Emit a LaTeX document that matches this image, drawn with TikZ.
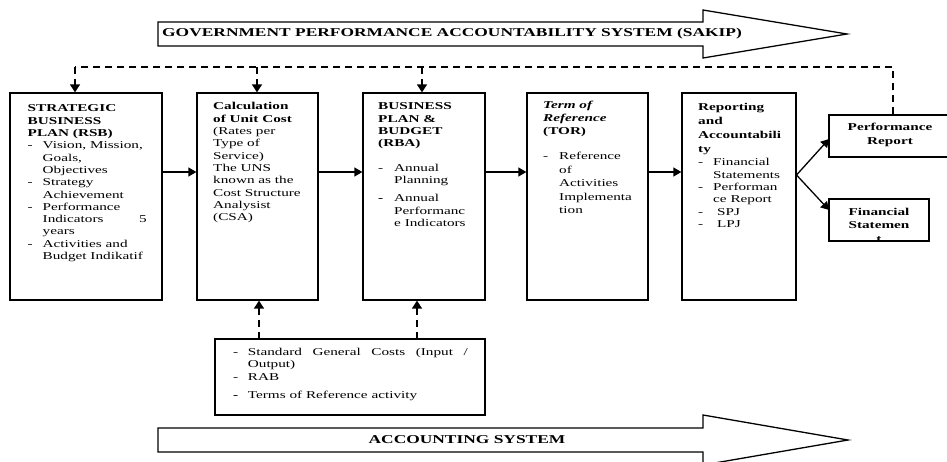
\documentclass[tikz,border=0pt]{standalone}
\usepackage{fontspec}
\setmainfont{Liberation Serif}[FakeStretch=1.45]
\usetikzlibrary{arrows.meta}
\newcommand\itemdash[1][15pt]{\makebox[#1][l]{-}}
\newcommand\itemdashb[1][15pt]{\makebox[#1][l]{\textbf{-}}}
\newcommand\itemind[1][15pt]{\hspace*{#1}}
\begin{document}
\begin{tikzpicture}[x=1pt,y=-1pt,
  box/.style={draw, line width=1.3pt, inner sep=0pt},
  txt/.style={anchor=base west, inner sep=0pt, font=\fontsize{10.5}{12.3}\selectfont},
  ctxt/.style={anchor=base, inner sep=0pt, font=\fontsize{10.5}{13.4}\selectfont\bfseries},
  arr/.style={line width=1.3pt, -{Triangle[length=8pt,width=9pt]}},
  dline/.style={line width=1.6pt, dash pattern=on 7pt off 5pt},
  darr/.style={dline, -{Triangle[length=8pt,width=10pt]}},
  banner/.style={draw, line width=1.3pt, fill=white}]
\useasboundingbox (0,0) rectangle (947,462);

% banners
\draw[banner] (158,22) -- (703,22) -- (703,10) -- (847,34) -- (703,58) -- (703,46) -- (158,46) -- cycle;
\node[anchor=west, inner sep=0pt, font=\fontsize{12}{14}\selectfont\bfseries] (gtext) at (162,34)
  {GOVERNMENT PERFORMANCE ACCOUNTABILITY SYSTEM (SAKIP)};
\draw[banner] (158,428) -- (703,428) -- (703,415) -- (848,440) -- (703,465) -- (703,452) -- (158,452) -- cycle;
\node[inner sep=0pt, font=\fontsize{12}{14}\selectfont\bfseries] (atext) at (467,440) {ACCOUNTING SYSTEM};

% boxes
\node[box, minimum width=152pt, minimum height=207pt] (b1) at (86,196.5) {};
\node[box, minimum width=121pt, minimum height=207pt] (b2) at (257.5,196.5) {};
\node[box, minimum width=122pt, minimum height=207pt] (b3) at (424,196.5) {};
\node[box, minimum width=121pt, minimum height=207pt] (b4) at (587.5,196.5) {};
\node[box, minimum width=114pt, minimum height=207pt] (b5) at (739,196.5) {};
\node[box, minimum width=123pt, minimum height=42pt] (pr) at (890.5,136) {};
\node[box, minimum width=100pt, minimum height=42pt] (fs) at (879,220) {};
\node[box, minimum width=270pt, minimum height=76pt] (bb) at (350,377) {};

% box texts
\node[txt] (t1) at (27.5,112) {\parbox[t]{200pt}{\raggedright
\textbf{STRATEGIC}\\
\textbf{BUSINESS}\\
\textbf{PLAN (RSB)}\\
\itemdash Vision, Mission,\\
\itemind Goals,\\
\itemind Objectives\\
\itemdash Strategy\\
\itemind Achievement\\
\itemdash Performance\\
\itemind\hbox to 104pt{Indicators\hfill 5}\\
\itemind years\\
\itemdash Activities and\\
\itemind Budget Indikatif}};

\node[txt] (t2) at (213,110) {\parbox[t]{200pt}{\raggedright
\textbf{Calculation}\\
\textbf{of Unit Cost}\\
(Rates per\\
Type of\\
Service)\\
The UNS\\
known as the\\
Cost Structure\\
Analysist\\
(CSA)}};

\node[txt] (t3) at (378,110) {\parbox[t]{200pt}{\raggedright
\textbf{BUSINESS}\\
\textbf{PLAN \&}\\
\textbf{BUDGET}\\
\textbf{(RBA)}\\[12.2pt]
\itemdash[16pt]Annual\\
\itemind[16pt]Planning\\[6pt]
\itemdashb[16pt]Annual\\
\itemind[16pt]Performanc\\
\itemind[16pt]e Indicators}};

\node[txt] (t4) at (543,109) {\parbox[t]{200pt}{\raggedright
\textbf{\textit{Term of}}\\
\textbf{\textit{Reference}}\\[0.6pt]
\textbf{(TOR)}\\[13.2pt]
\itemdash[16pt]Reference\\[1.2pt]
\itemind[16pt]of\\[1.2pt]
\itemind[16pt]Activities\\[1.2pt]
\itemind[16pt]Implementa\\[1.2pt]
\itemind[16pt]tion}};

\node[txt] (t5) at (698,110.5) {\parbox[t]{200pt}{\raggedright
\textbf{Reporting}\\[1.7pt]
\textbf{and}\\[1.7pt]
\textbf{Accountabili}\\[1.7pt]
\textbf{ty}\\[1.2pt]
\itemdash Financial\\
\itemind Statements\\
\itemdash Performan\\
\itemind ce Report\\
\itemdash\hspace*{4pt}SPJ\\
\itemdash\hspace*{4pt}LPJ}};

\node[txt] (tb) at (233,355.5) {\parbox[t]{260pt}{\raggedright
\itemdash[14.7pt]\hbox to 220pt{Standard\hfill General\hfill Costs\hfill (Input\hfill /}\\[-0.8pt]
\itemind[14.7pt]Output)\\[1.2pt]
\itemdash[14.7pt]RAB\\[5.7pt]
\itemdashb[14.7pt]Terms of Reference activity}};

\node[ctxt] (tpr) at (890,130.7) {\parbox[t]{120pt}{\centering Performance\\Report}};
\begin{scope}
\clip (fs.north west) rectangle (fs.south east);
\node[ctxt] (tfs) at (879,215.5) {\parbox[t]{100pt}{\centering Financial\\Statemen\\t}};
\end{scope}
\node[box, minimum width=100pt, minimum height=42pt] at (fs) {};

% solid arrows
\coordinate (h) at (0,172);
\draw[arr] (b1.east |- h) -- (b2.west |- h);
\draw[arr] (b2.east |- h) -- (b3.west |- h);
\draw[arr] (b3.east |- h) -- (b4.west |- h);
\draw[arr] (b4.east |- h) -- (b5.west |- h);
\coordinate (fork) at (796.5,175);
\coordinate (prin) at (829,139);
\coordinate (fsin) at (829,210);
\draw[arr] (fork) -- (prin);
\draw[arr] (fork) -- (fsin);

% dashed feedback
\coordinate (c1) at (75,67);
\coordinate (c2) at (257,67);
\coordinate (c3) at (422,67);
\coordinate (c4) at (893,67);
\draw[dline] (c4 |- pr.north) -- (c4) -- (c1);
\draw[darr] (c1) -- (c1 |- b1.north);
\draw[darr] (c2) -- (c2 |- b2.north);
\draw[darr] (c3) -- (c3 |- b3.north);
\coordinate (e1) at (259,339);
\coordinate (e2) at (417,339);
\draw[darr] (e1) -- (e1 |- b2.south);
\draw[darr] (e2) -- (e2 |- b3.south);
\end{tikzpicture}
\end{document}
